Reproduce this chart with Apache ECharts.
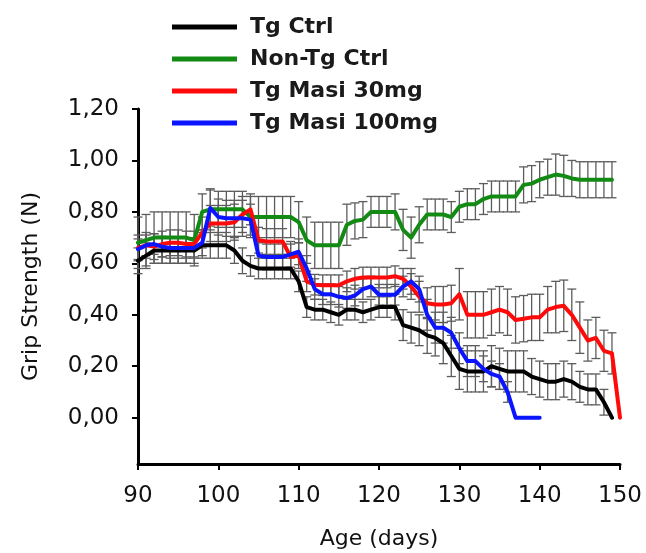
<!DOCTYPE html>
<html>
<head>
<meta charset="utf-8">
<script src="https://cdn.jsdelivr.net/npm/echarts@6/dist/echarts.min.js"></script>
<style>
  html, body { margin: 0; padding: 0; background: #fff; }
  #chart { width: 646px; height: 553px; }
</style>
</head>
<body>
<div id="chart"></div>
<script>
// days 90..150
const days = [
  90, 91, 92, 93, 94, 95, 96, 97, 98, 99,
  100, 101, 102, 103, 104, 105, 106, 107, 108, 109,
  110, 111, 112, 113, 114, 115, 116, 117, 118, 119,
  120, 121, 122, 123, 124, 125, 126, 127, 128, 129,
  130, 131, 132, 133, 134, 135, 136, 137, 138, 139,
  140, 141, 142, 143, 144, 145, 146, 147, 148, 149, 150,
];

const tgCtrl = [
  0.61, 0.63, 0.65, 0.65, 0.65, 0.65, 0.65, 0.65, 0.67, 0.67,
  0.67, 0.67, 0.65, 0.61, 0.59, 0.58, 0.58, 0.58, 0.58, 0.58,
  0.53, 0.43, 0.42, 0.42, 0.41, 0.40, 0.42, 0.42, 0.41, 0.42,
  0.43, 0.43, 0.43, 0.36, 0.35, 0.34, 0.32, 0.31, 0.29, 0.24,
  0.19, 0.18, 0.18, 0.18, 0.20, 0.19, 0.18, 0.18, 0.18, 0.16,
  0.15, 0.14, 0.14, 0.15, 0.14, 0.12, 0.11, 0.11, 0.06, 0.00, null,
];
const tgCtrlErr = [
  0.05, 0.05, 0.05, 0.05, 0.05, 0.05, 0.05, 0.05, 0.05, 0.05,
  0.05, 0.05, 0.05, 0.05, 0.04, 0.04, 0.04, 0.04, 0.04, 0.04,
  0.04, 0.04, 0.04, 0.04, 0.04, 0.04, 0.04, 0.04, 0.04, 0.04,
  0.04, 0.04, 0.05, 0.06, 0.06, 0.06, 0.07, 0.07, 0.08, 0.08,
  0.08, 0.08, 0.08, 0.08, 0.08, 0.08, 0.08, 0.08, 0.08, 0.07,
  0.07, 0.07, 0.07, 0.07, 0.07, 0.06, 0.06, 0.06, 0.05, 0.00, null,
];

const nonTgCtrl = [
  0.68, 0.69, 0.70, 0.70, 0.70, 0.70, 0.70, 0.69, 0.80, 0.81,
  0.81, 0.81, 0.81, 0.81, 0.78, 0.78, 0.78, 0.78, 0.78, 0.78,
  0.76, 0.69, 0.67, 0.67, 0.67, 0.67, 0.75, 0.765, 0.77, 0.80,
  0.80, 0.80, 0.80, 0.73, 0.70, 0.75, 0.79, 0.79, 0.79, 0.78,
  0.82, 0.83, 0.83, 0.85, 0.86, 0.86, 0.86, 0.86, 0.905, 0.91,
  0.925, 0.935, 0.945, 0.94, 0.93, 0.925, 0.925, 0.925, 0.925, 0.925, null,
];
const nonTgCtrlErr = [
  0.10, 0.10, 0.10, 0.10, 0.10, 0.10, 0.10, 0.10, 0.07, 0.08,
  0.07, 0.07, 0.07, 0.07, 0.08, 0.08, 0.08, 0.08, 0.08, 0.08,
  0.08, 0.09, 0.09, 0.09, 0.09, 0.09, 0.08, 0.07, 0.07, 0.06,
  0.06, 0.06, 0.07, 0.08, 0.08, 0.07, 0.06, 0.06, 0.06, 0.06,
  0.06, 0.06, 0.06, 0.06, 0.06, 0.06, 0.06, 0.06, 0.07, 0.07,
  0.07, 0.07, 0.08, 0.08, 0.07, 0.07, 0.07, 0.07, 0.07, 0.07, null,
];

const tgMasi30 = [
  0.66, 0.67, 0.665, 0.675, 0.68, 0.68, 0.675, 0.675, 0.72, 0.755,
  0.755, 0.755, 0.76, 0.79, 0.81, 0.69, 0.685, 0.685, 0.685, 0.625,
  0.63, 0.53, 0.517, 0.515, 0.515, 0.515, 0.53, 0.54, 0.545, 0.545,
  0.545, 0.545, 0.55, 0.54, 0.51, 0.47, 0.445, 0.44, 0.44, 0.445,
  0.48, 0.40, 0.40, 0.40, 0.41, 0.42, 0.41, 0.38, 0.385, 0.39,
  0.39, 0.42, 0.43, 0.435, 0.40, 0.35, 0.30, 0.31, 0.26, 0.25, 0.00,
];
const tgMasi30Err = [
  0.05, 0.05, 0.05, 0.05, 0.05, 0.05, 0.05, 0.05, 0.06, 0.07,
  0.07, 0.07, 0.07, 0.07, 0.06, 0.05, 0.05, 0.05, 0.05, 0.05,
  0.05, 0.04, 0.04, 0.04, 0.04, 0.04, 0.04, 0.04, 0.04, 0.04,
  0.04, 0.04, 0.04, 0.04, 0.05, 0.06, 0.06, 0.07, 0.07, 0.07,
  0.10, 0.09, 0.09, 0.09, 0.09, 0.09, 0.09, 0.09, 0.09, 0.09,
  0.09, 0.09, 0.10, 0.10, 0.10, 0.10, 0.08, 0.08, 0.08, 0.08, 0.00,
];

const tgMasi100 = [
  0.655, 0.67, 0.675, 0.665, 0.66, 0.66, 0.66, 0.66, 0.68, 0.815,
  0.78, 0.775, 0.775, 0.775, 0.77, 0.63, 0.625, 0.625, 0.625, 0.635,
  0.645, 0.58, 0.50, 0.48, 0.48, 0.47, 0.465, 0.475, 0.50, 0.51,
  0.478, 0.478, 0.478, 0.51, 0.53, 0.50, 0.40, 0.35, 0.35, 0.33,
  0.27, 0.22, 0.22, 0.19, 0.17, 0.16, 0.10, 0.00, 0.00, 0.00,
  0.00, null, null, null, null, null, null, null, null, null, null,
];
const tgMasi100Err = [
  0.04, 0.04, 0.04, 0.04, 0.04, 0.04, 0.04, 0.04, 0.05, 0.07,
  0.07, 0.07, 0.07, 0.07, 0.06, 0.05, 0.05, 0.05, 0.05, 0.05,
  0.05, 0.05, 0.04, 0.04, 0.04, 0.04, 0.04, 0.04, 0.04, 0.04,
  0.04, 0.04, 0.04, 0.04, 0.05, 0.05, 0.06, 0.06, 0.06, 0.06,
  0.06, 0.06, 0.06, 0.05, 0.05, 0.05, 0.04, 0.00, 0.00, 0.00,
  0.00, null, null, null, null, null, null, null, null, null, null,
];

const yTicks = [0, 0.2, 0.4, 0.6, 0.8, 1.0, 1.2];
const xTicks = [90, 100, 110, 120, 130, 140, 150];

const groups = [
  { name: 'Tg Ctrl', color: '#000000', values: tgCtrl, err: tgCtrlErr },
  { name: 'Non-Tg Ctrl', color: '#138a13', values: nonTgCtrl, err: nonTgCtrlErr },
  { name: 'Tg Masi 30mg', color: '#ff0a0a', values: tgMasi30, err: tgMasi30Err },
  { name: 'Tg Masi 100mg', color: '#0a14ff', values: tgMasi100, err: tgMasi100Err },
];

const font = 'DejaVu Sans';

// error bars as one custom series, drawn under the lines
const errData = [];
groups.forEach((g) => {
  g.values.forEach((v, i) => {
    if (v === null || !g.err[i]) return;
    errData.push([days[i], v - g.err[i], v + g.err[i]]);
  });
});

function renderErr(params, api) {
  const lo = api.coord([api.value(0), api.value(1)]);
  const hi = api.coord([api.value(0), api.value(2)]);
  const hw = 4.5;
  const style = { stroke: '#5c5c5c', lineWidth: 1.3 };
  return {
    type: 'group',
    children: [
      { type: 'line', shape: { x1: lo[0], y1: lo[1], x2: hi[0], y2: hi[1] }, style },
      { type: 'line', shape: { x1: lo[0] - hw, y1: lo[1], x2: lo[0] + hw, y2: lo[1] }, style },
      { type: 'line', shape: { x1: hi[0] - hw, y1: hi[1], x2: hi[0] + hw, y2: hi[1] }, style },
    ],
  };
}

const series = [
  {
    type: 'custom',
    name: 'err',
    renderItem: renderErr,
    data: errData,
    encode: { x: 0, y: [1, 2] },
    silent: true,
    z: 1,
  },
];
groups.forEach((g) => {
  series.push({
    type: 'line',
    name: g.name,
    data: days.map((d, i) => [d, g.values[i]]),
    showSymbol: false,
    symbol: 'none',
    lineStyle: { color: g.color, width: 4, join: 'round', cap: 'round' },
    itemStyle: { color: g.color },
    z: 3,
  });
});

const chart = echarts.init(document.getElementById('chart'));
chart.setOption({
  animation: false,
  grid: {
    left: 138,
    right: 26,
    top: 109,
    bottom: 89,
    containLabel: false,
    outerBoundsMode: 'none',
  },
  legend: {
    data: groups.map((g) => g.name),
    orient: 'vertical',
    left: 167,
    top: 11,
    itemWidth: 65,
    itemHeight: 5,
    itemGap: 10,
    icon: 'rect',
    textStyle: {
      fontFamily: font,
      fontWeight: 'bold',
      fontSize: 22,
      color: '#1a1a1a',
      padding: [0, 0, 0, 8],
    },
  },
  xAxis: {
    type: 'value',
    min: 90,
    max: 150,
    interval: 10,
    name: 'Age (days)',
    nameLocation: 'middle',
    nameGap: 64,
    nameTextStyle: { fontFamily: font, fontSize: 22, color: '#111' },
    axisLine: { onZero: false, lineStyle: { color: '#000', width: 3 } },
    axisTick: { length: 6, lineStyle: { color: '#000', width: 2 } },
    axisLabel: {
      customValues: xTicks,
      margin: 21,
      fontFamily: font,
      fontSize: 23,
      color: '#111',
    },
    splitLine: { show: false },
  },
  yAxis: {
    type: 'value',
    min: -0.18,
    max: 1.2,
    name: 'Grip Strength (N)',
    nameLocation: 'middle',
    nameGap: 96,
    nameTextStyle: { fontFamily: font, fontSize: 22, color: '#111' },
    axisLine: { onZero: false, lineStyle: { color: '#000', width: 3 } },
    axisTick: { customValues: yTicks, length: 6, lineStyle: { color: '#000', width: 2 } },
    axisLabel: {
      customValues: yTicks,
      margin: 19,
      fontFamily: font,
      fontSize: 23,
      color: '#111',
      formatter: (v) => v.toFixed(2).replace('.', ','),
    },
    splitLine: { show: false },
  },
  series,
});
</script>
</body>
</html>
